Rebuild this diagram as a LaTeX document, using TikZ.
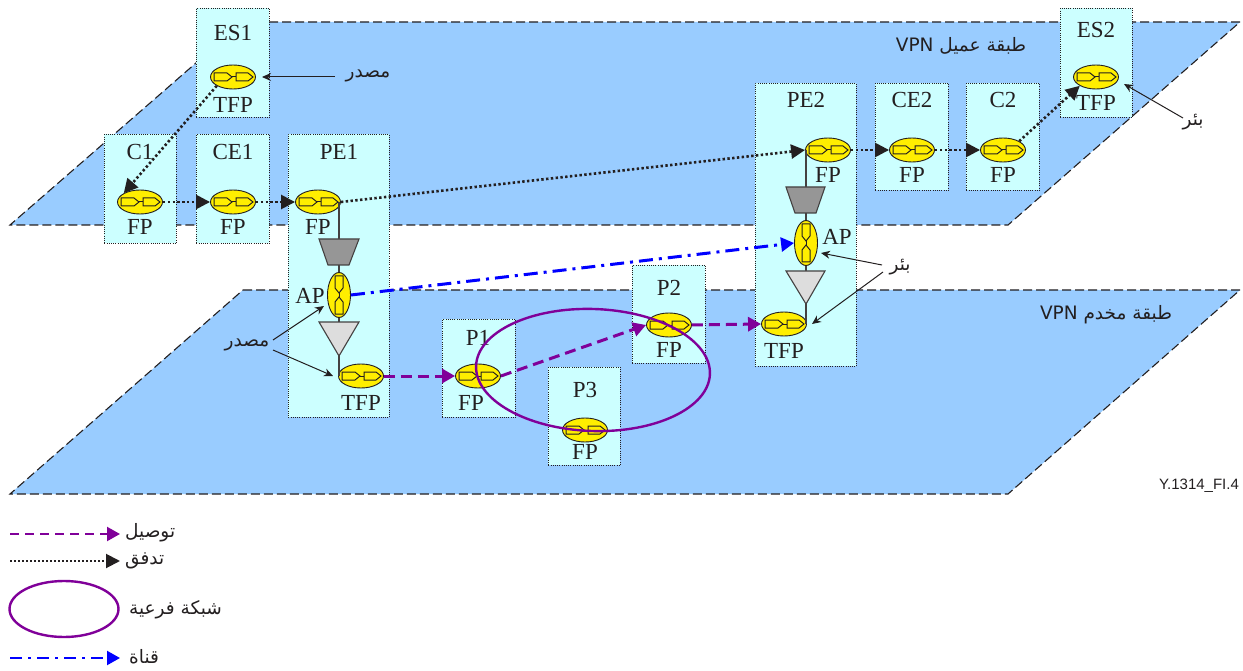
\documentclass[tikz,border=0pt]{standalone}
\usepackage{fontspec}
\setmainfont{Liberation Serif}
\newfontfamily\arabicfont[Script=Arabic]{DejaVu Sans}
\newfontfamily\lsans{Liberation Sans}
\TeXXeTstate=1
\usetikzlibrary{arrows.meta,shapes.geometric}
\definecolor{planeblue}{HTML}{99CCFF}
\definecolor{boxcyan}{HTML}{CCFFFF}
\definecolor{fpyellow}{HTML}{FFEE00}
\definecolor{conpurple}{HTML}{800099}
\definecolor{trailblue}{HTML}{0000FF}
\definecolor{inkc}{HTML}{231F20}
\definecolor{darkgrey}{HTML}{969696}
\definecolor{lightgrey}{HTML}{DDDDDD}
\tikzset{
  plane/.style={fill=planeblue,draw=none},
  planeedge/.style={draw=inkc,line width=1.1pt,dash pattern=on 9pt off 4pt},
  boxst/.style={draw=inkc,fill=boxcyan,line width=.9pt,dash pattern=on 1pt off 1.2pt,rectangle,anchor=north west,inner sep=0pt},
  fpst/.style={ellipse,draw=inkc,fill=fpyellow,line width=.9pt,inner sep=0pt,minimum width=45pt,minimum height=24pt},
  apst/.style={ellipse,draw=inkc,fill=fpyellow,line width=.9pt,inner sep=0pt,minimum width=23pt,minimum height=45pt},
  glyph/.style={draw=inkc,line width=1pt},
  lab/.style={font=\fontsize{23}{25}\selectfont,text=inkc,inner sep=0pt},
  ar/.style={font=\arabicfont\fontsize{18.5}{21}\selectfont,text=inkc,inner sep=0pt},
  stem/.style={draw=inkc!85,line width=1.1pt},
  trap/.style={draw=inkc!85,line width=1.1pt},
  flow/.style={draw=inkc,line width=2.6pt,dash pattern=on 2.4pt off 2.4pt,-{Triangle[length=14pt,width=14pt,fill=inkc]}},
  conn/.style={draw=conpurple,line width=3pt,dash pattern=on 11pt off 6pt,-{Triangle[length=13pt,width=14pt,fill=conpurple]}},
  trail/.style={draw=trailblue,line width=3pt,dash pattern=on 14pt off 6pt on 3pt off 6pt,-{Triangle[length=13pt,width=14pt,fill=trailblue]}},
  pointer/.style={draw=inkc,line width=1pt,-{Stealth[length=9pt,width=8pt]}},
  subnet/.style={ellipse,draw=conpurple,line width=2.4pt,inner sep=0pt},
}
% horizontal access point glyph
\newcommand{\hglyph}[2]{%
  \begin{scope}[shift={(#1,#2)}]
    \draw[glyph] (-19,-4) -- (-6,-4) -- (-1,0) -- (-6,4) -- (-19,4) -- cycle;
    \draw[glyph] (-1,0) -- (3,0);
    \draw[glyph] (3,-4) -- (15,-4) -- (20,0) -- (15,4) -- (3,4) -- cycle;
  \end{scope}}
\newcommand{\vglyph}[2]{%
  \begin{scope}[shift={(#1,#2)}]
    \draw[glyph] (-4,-19) -- (4,-19) -- (4,-7) -- (0,-2) -- (-4,-7) -- cycle;
    \draw[glyph] (0,-2) -- (0,2);
    \draw[glyph] (0,2) -- (4,7) -- (4,19) -- (-4,19) -- (-4,7) -- cycle;
  \end{scope}}
\begin{document}
\begin{tikzpicture}[x=1pt,y=-1pt]
\useasboundingbox (0,0) rectangle (1243,671);
% planes
\fill[plane] (243,22) -- (1240,22) -- (1008,225) -- (10,225) -- cycle;
\draw[planeedge] (243,22) -- (1240,22) -- (1008,225) -- (10,225) -- cycle;
\fill[plane] (243,290) -- (1240,290) -- (1008,494) -- (10,494) -- cycle;
\draw[planeedge] (243,290) -- (1240,290) -- (1008,494) -- (10,494) -- cycle;
% boxes
\node[boxst,minimum width=73pt,minimum height=109pt] (bES1) at (196,8) {};
\node[boxst,minimum width=72pt,minimum height=109pt] (bC1) at (104,134) {};
\node[boxst,minimum width=73pt,minimum height=109pt] (bCE1) at (196,134) {};
\node[boxst,minimum width=101pt,minimum height=283pt] (bPE1) at (288,134) {};
\node[boxst,minimum width=73pt,minimum height=98pt] (bP1) at (442,319) {};
\node[boxst,minimum width=72pt,minimum height=98pt] (bP3) at (548,367) {};
\node[boxst,minimum width=73pt,minimum height=98pt] (bP2) at (632,265) {};
\node[boxst,minimum width=101pt,minimum height=283pt] (bPE2) at (755,83) {};
\node[boxst,minimum width=73pt,minimum height=107pt] (bCE2) at (875,83) {};
\node[boxst,minimum width=73pt,minimum height=107pt] (bC2) at (966,83) {};
\node[boxst,minimum width=72pt,minimum height=109pt] (bES2) at (1060,8) {};
% box titles and point names
\node[lab] (tES1) at (233,33) {ES1};
\node[lab] (lES1) at (233,105) {TFP};
\node[lab] (tC1) at (140,152) {C1};
\node[lab] (lC1) at (140,227) {FP};
\node[lab] (tCE1) at (233,152) {CE1};
\node[lab] (lCE1) at (233,227) {FP};
\node[lab] (tPE1) at (339,152) {PE1};
\node[lab] (lPE1) at (318,227) {FP};
\node[lab] (lAP1) at (310,296) {AP};
\node[lab] (lTFP1) at (361,403) {TFP};
\node[lab] (tP1) at (478,338) {P1};
\node[lab] (lP1) at (471,403) {FP};
\node[lab] (tP3) at (585,390) {P3};
\node[lab] (lP3) at (585,452) {FP};
\node[lab] (tP2) at (669,288) {P2};
\node[lab] (lP2) at (669,350) {FP};
\node[lab] (tPE2) at (806,100) {PE2};
\node[lab] (lPE2) at (828,175) {FP};
\node[lab] (lAP2) at (837,237) {AP};
\node[lab] (lTFP2) at (784,351) {TFP};
\node[lab] (tCE2) at (912,100) {CE2};
\node[lab] (lCE2) at (912,175) {FP};
\node[lab] (tC2) at (1003,100) {C2};
\node[lab] (lC2) at (1003,175) {FP};
\node[lab] (tES2) at (1096,30) {ES2};
\node[lab] (lES2) at (1096,103) {TFP};
% adaptation stacks
\node[fpst] (FPa) at (318,202) {};
\node[apst] (APa) at (339,295) {};
\node[fpst] (TFPa) at (361,376) {};
\node[fpst] (FPb) at (828,150) {};
\node[apst] (APb) at (806,243) {};
\node[fpst] (TFPb) at (784,324) {};
\draw[stem] (339,202) -- (339,239) (339,265) -- (APa.north) (APa.south) -- (339,322) (339,356) -- (339,376);
\draw[stem] (806,150) -- (806,187) (806,213) -- (APb.north) (APb.south) -- (806,271) (806,304) -- (806,324);
\draw[trap,fill=darkgrey] (319,239) -- (359,239) -- (349,265) -- (328,265) -- cycle;
\draw[trap,fill=lightgrey] (319,322) -- (359,322) -- (339,356) -- cycle;
\draw[trap,fill=darkgrey] (786,187) -- (825,187) -- (816,213) -- (795,213) -- cycle;
\draw[trap,fill=lightgrey] (786,271) -- (825,271) -- (806,304) -- cycle;
% other points
\node[fpst] (ES1) at (233,77) {};
\node[fpst] (C1) at (140,202) {};
\node[fpst] (CE1) at (233,202) {};
\node[fpst] (P1) at (478,376) {};
\node[fpst] (P3) at (585,430) {};
\node[fpst] (P2) at (669,325) {};
\node[fpst] (CE2) at (912,150) {};
\node[fpst] (C2) at (1003,150) {};
\node[fpst] (ES2) at (1096,77) {};
\hglyph{233}{77}\hglyph{140}{202}\hglyph{233}{202}\hglyph{318}{202}\hglyph{361}{376}
\hglyph{478}{376}\hglyph{585}{430}\hglyph{669}{325}\hglyph{828}{150}\hglyph{784}{324}
\hglyph{912}{150}\hglyph{1003}{150}\hglyph{1096}{77}
\vglyph{339}{295}\vglyph{806}{243}
% subnetwork
\node[subnet,rotate=-2,minimum width=234pt,minimum height=122pt] (SN) at (593,370) {};
% flows
\draw[flow] (ES1.south west) -- (C1.north west);
\draw[flow] (C1.east) -- (CE1.west);
\draw[flow] (CE1.east) -- (FPa.west);
\draw[flow] (FPa.east) -- (FPb.west);
\draw[flow] (FPb.east) -- (CE2.west);
\draw[flow] (CE2.east) -- (C2.west);
\draw[flow] (C2.north east) -- (ES2.south west);
% trail
\draw[trail] (APa.east) -- (APb.west);
% connections
\draw[conn] (TFPa.east) -- (P1.west);
\draw[conn] (P1.east) -- (P2.west);
\draw[conn] (P2.east) -- (TFPb.west);
% Arabic labels
\node[ar] (upperL) at (961,46) {\beginR طبقة عميل \beginL VPN\endL\endR};
\node[ar] (lowerL) at (1106,315) {\beginR طبقة مخدم \beginL VPN\endL\endR};
\node[ar] (srcA) at (368,76) {\beginR مصدر\endR};
\node[ar] (srcB) at (247,345) {\beginR مصدر\endR};
\node[ar] (sinkA) at (1193,122) {\beginR بئر\endR};
\node[ar] (sinkB) at (900,267) {\beginR بئر\endR};
% pointers
\coordinate (pS1) at (262,77);
\coordinate (pS2) at (324,306);
\coordinate (pS3) at (333,376);
\coordinate (pK1) at (1124,84);
\coordinate (pK2) at (821,253);
\coordinate (pK3) at (812,324);
\coordinate (fS1) at (335,77);
\coordinate (fS2) at (273,340);
\coordinate (fS3) at (273,350);
\coordinate (fK1) at (1183,118);
\coordinate (fK2) at (882,265);
\coordinate (fK3) at (883,272);
\draw[pointer] (fS1) -- (pS1);
\draw[pointer] (fS2) -- (pS2);
\draw[pointer] (fS3) -- (pS3);
\draw[pointer] (fK1) -- (pK1);
\draw[pointer] (fK2) -- (pK2);
\draw[pointer] (fK3) -- (pK3);
\node[font=\lsans\fontsize{15}{17}\selectfont,text=inkc,inner sep=0pt] (ref) at (1199,486) {Y.1314\_FI.4};
% legend
\coordinate (a1) at (10,534); \coordinate (b1) at (120,534);
\coordinate (a2) at (10,561); \coordinate (b2) at (120,561);
\coordinate (a3) at (10,658); \coordinate (b3) at (120,658);
\draw[conn,line width=2.2pt,dash pattern=on 9pt off 6pt] (a1) -- (b1);
\draw[flow,line width=2pt,dash pattern=on 2pt off 2pt] (a2) -- (b2);
\node[subnet,minimum width=109pt,minimum height=56pt] (legS) at (64,609) {};
\draw[trail,line width=2.2pt,dash pattern=on 12pt off 6pt on 3pt off 6pt] (a3) -- (b3);
\node[ar,anchor=west] (leg1) at (125,533) {\beginR توصيل\endR};
\node[ar,anchor=west] (leg2) at (125,561) {\beginR تدفق\endR};
\node[ar,anchor=west] (leg3) at (129,610) {\beginR شبكة فرعية\endR};
\node[ar,anchor=west] (leg4) at (129,657) {\beginR قناة\endR};
\end{tikzpicture}
\end{document}
